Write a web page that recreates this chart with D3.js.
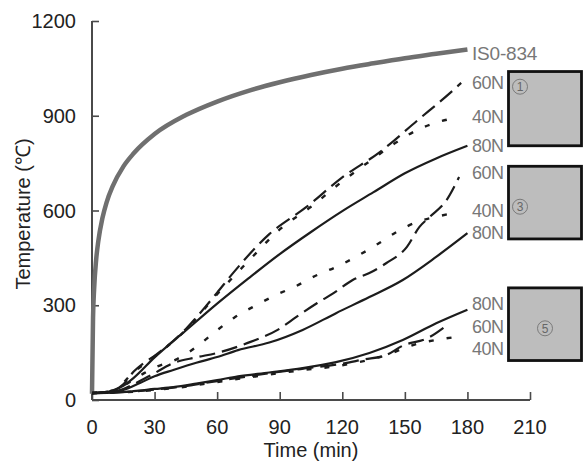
<!DOCTYPE html>
<html>
<head>
<meta charset="utf-8">
<script src="https://cdn.jsdelivr.net/npm/d3@7"></script>
<style>
  body { margin: 0; background: #fff; }
  svg { display: block; font-family: "Liberation Sans", Arial, sans-serif; }
</style>
</head>
<body>
<svg id="chart" width="584" height="462"></svg>
<script>
// ticks
var xTicks = [0, 30, 60, 90, 120, 150, 180, 210];
var yTicks = [0, 300, 600, 900, 1200];

// ISO-834 standard fire curve
var isoT = [0, 0.5, 1, 2, 3, 5, 7, 10, 15, 20, 30, 45, 60, 75, 90, 105, 120, 135, 150, 165, 180];
var isoV = [20, 261, 349, 445, 502, 576, 626, 678, 739, 781, 842, 902, 945, 979, 1006, 1029, 1049, 1066, 1082, 1096, 1110];

// specimen 1
var s1n80T = [0, 5, 10, 15, 20, 30, 45, 60, 75, 90, 105, 120, 135, 150, 165, 180];
var s1n80V = [22, 24, 30, 45, 70, 135, 220, 305, 385, 462, 532, 598, 658, 718, 765, 805];
var s1n60T = [0, 10, 15, 20, 25, 30, 45, 55, 60, 68, 85, 103, 120, 138, 156, 173, 177];
var s1n60V = [22, 30, 50, 90, 118, 140, 225, 300, 340, 405, 525, 612, 705, 785, 885, 980, 1004];
var s1n40T = [0, 10, 20, 30, 45, 60, 75, 90, 105, 120, 135, 145, 156, 165, 176];
var s1n40V = [22, 30, 88, 138, 222, 335, 440, 540, 612, 692, 765, 812, 855, 878, 896];

// specimen 3
var s3n80T = [0, 10, 15, 23, 30, 39, 50, 60, 70, 85, 101, 117, 133, 149, 165, 180];
var s3n80V = [22, 25, 32, 54, 75, 95, 118, 136, 158, 182, 222, 275, 326, 380, 453, 528];
var s3n60T = [0, 10, 15, 20, 30, 39, 50, 60, 76, 89, 98, 108, 116, 125, 133, 141, 151, 157, 162, 170, 176];
var s3n60V = [22, 26, 35, 50, 85, 117, 135, 149, 184, 222, 263, 307, 339, 380, 402, 433, 485, 548, 580, 633, 706];
var s3n40T = [0, 10, 15, 20, 25, 31, 40, 50, 59, 68, 79, 88, 97, 108, 117, 127, 137, 146, 156, 165, 175];
var s3n40V = [22, 28, 45, 65, 85, 105, 127, 168, 216, 260, 301, 332, 358, 396, 421, 455, 494, 532, 564, 580, 594];

// specimen 5
var s5n80T = [0, 10, 20, 30, 39, 50, 60, 70, 85, 101, 117, 133, 149, 165, 180];
var s5n80V = [22, 23, 28, 35, 41, 52, 63, 75, 87, 101, 120, 149, 190, 243, 286];
var s5n60T = [0, 10, 20, 30, 40, 60, 80, 100, 120, 130, 141, 149, 161, 169];
var s5n60V = [22, 23, 27, 33, 40, 60, 80, 98, 115, 128, 142, 172, 196, 231];
var s5n40T = [0, 10, 20, 30, 40, 60, 80, 100, 120, 140, 156, 165, 175];
var s5n40V = [22, 23, 26, 32, 38, 57, 76, 94, 110, 140, 178, 190, 200];

var zip = function (ts, vs) {
    return ts.map(function (t, i) { return {t: t, v: vs[i]}; });
};

var series = [
    {name: "IS0-834", data: zip(isoT, isoV), kind: "iso"},
    {name: "60N", data: zip(s1n60T, s1n60V), kind: "n60"},
    {name: "40N", data: zip(s1n40T, s1n40V), kind: "n40"},
    {name: "80N", data: zip(s1n80T, s1n80V), kind: "n80"},
    {name: "60N", data: zip(s3n60T, s3n60V), kind: "n60"},
    {name: "40N", data: zip(s3n40T, s3n40V), kind: "n40"},
    {name: "80N", data: zip(s3n80T, s3n80V), kind: "n80"},
    {name: "80N", data: zip(s5n80T, s5n80V), kind: "n80"},
    {name: "60N", data: zip(s5n60T, s5n60V), kind: "n60"},
    {name: "40N", data: zip(s5n40T, s5n40V), kind: "n40"}
];

// label y (in temperature units) for the right-hand tags
var tagValues = [1100, 1004, 896, 805, 718, 600, 528, 305, 232, 163];

var svg = d3.select("#chart");
var x = d3.scaleLinear().domain([0, 210]).range([92, 530]);
var y = d3.scaleLinear().domain([0, 1200]).range([400, 21]);

var axisColor = "#4a4a4a";

var gy = svg.append("g")
    .attr("transform", "translate(92,0)")
    .call(d3.axisRight(y).tickValues(yTicks).tickSize(7).tickFormat(""));
var gx = svg.append("g")
    .attr("transform", "translate(0,400)")
    .call(d3.axisTop(x).tickValues(xTicks).tickSize(8).tickFormat(""));
[gx, gy].forEach(function (g) {
    g.select(".domain").attr("stroke", axisColor).attr("stroke-width", 2);
    g.selectAll(".tick line").attr("stroke", axisColor).attr("stroke-width", 1.6);
});
gx.select(".domain").attr("d", "M92,0H530");
gy.select(".domain").attr("d", "M0,21V400");

svg.selectAll("text.ylab").data(yTicks).enter().append("text")
    .attr("class", "ylab")
    .attr("x", 76)
    .attr("y", function (d) { return y(d) + 7; })
    .attr("text-anchor", "end")
    .attr("font-size", 20)
    .attr("fill", "#222")
    .text(function (d) { return d; });

svg.selectAll("text.xlab").data(xTicks).enter().append("text")
    .attr("class", "xlab")
    .attr("x", function (d) { return x(d); })
    .attr("y", 434)
    .attr("text-anchor", "middle")
    .attr("font-size", 20)
    .attr("fill", "#222")
    .text(function (d) { return d; });

svg.append("text")
    .attr("transform", "translate(30,214) rotate(-90)")
    .attr("text-anchor", "middle")
    .attr("font-size", 20)
    .attr("fill", "#222")
    .text("Temperature (\u2103)");

svg.append("text")
    .attr("x", 311)
    .attr("y", 457)
    .attr("text-anchor", "middle")
    .attr("font-size", 20)
    .attr("fill", "#222")
    .text("Time (min)");

var line = d3.line()
    .x(function (d) { return x(d.t); })
    .y(function (d) { return y(d.v); })
    .curve(d3.curveMonotoneX);

var styles = {
    iso: {stroke: "#6f6f6f", width: 4.5, dash: null},
    n80: {stroke: "#1c1c1c", width: 2.2, dash: null},
    n60: {stroke: "#1c1c1c", width: 2.2, dash: "16,7"},
    n40: {stroke: "#1c1c1c", width: 2.4, dash: "5,13"}
};

series.forEach(function (s) {
    var st = styles[s.kind];
    svg.append("path")
        .datum(s.data)
        .attr("fill", "none")
        .attr("stroke", st.stroke)
        .attr("stroke-width", st.width)
        .attr("stroke-dasharray", st.dash)
        .attr("stroke-linejoin", "round")
        .attr("d", line);
});

series.forEach(function (s, i) {
    var iso = s.kind == "iso";
    svg.append("text")
        .attr("x", 472)
        .attr("y", y(tagValues[i]) + (iso ? 7 : 6))
        .attr("font-size", iso ? 19 : 18)
        .attr("letter-spacing", iso ? -0.2 : -0.5)
        .attr("fill", "#777")
        .text(s.name);
});

// specimen boxes
var boxes = [
    {top: 1040, bottom: 805, label: "1", cx: 520, cv: 992},
    {top: 740, bottom: 510, label: "3", cx: 520, cv: 612},
    {top: 355, bottom: 125, label: "5", cx: 545, cv: 227}
];
boxes.forEach(function (b) {
    svg.append("rect")
        .attr("x", 508.5)
        .attr("y", y(b.top))
        .attr("width", 73)
        .attr("height", y(b.bottom) - y(b.top))
        .attr("fill", "#bdbdbd")
        .attr("stroke", "#111")
        .attr("stroke-width", 2.8);
    svg.append("circle")
        .attr("cx", b.cx)
        .attr("cy", y(b.cv))
        .attr("r", 7.5)
        .attr("fill", "none")
        .attr("stroke", "#7a7a7a")
        .attr("stroke-width", 1);
    svg.append("text")
        .attr("x", b.cx)
        .attr("y", y(b.cv) + 4.5)
        .attr("text-anchor", "middle")
        .attr("font-size", 12)
        .attr("fill", "#666")
        .text(b.label);
});
</script>
</body>
</html>
